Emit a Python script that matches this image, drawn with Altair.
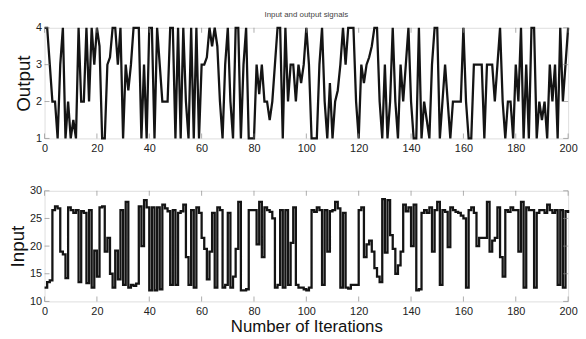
import altair as alt
import pandas as pd

iterations = list(range(201))

output_signal = [
    4, 4, 3, 2, 2, 1, 3, 4, 1, 2, 1, 1.5, 1, 4, 2, 2, 4, 2, 4, 3,
    4, 3.5, 1, 1, 3, 3.2, 4, 4, 3, 4, 1, 3, 2.3, 3, 4, 4, 4, 1, 3, 1,
    4, 4, 1, 4, 3, 2, 2, 2, 4, 4, 1, 4, 1, 4, 2, 1, 4, 1, 4, 1,
    3, 3, 3.2, 4, 3.5, 4, 3.5, 2, 1, 3, 4, 2, 1, 4, 4, 1, 3, 4, 1, 1,
    1, 3, 2.2, 3, 2, 2, 1.5, 2, 3, 4, 4, 1, 4, 2, 3, 3, 2, 3, 2.5, 3,
    4, 3, 1, 1, 1, 3, 4, 2, 1, 2.5, 1, 2, 2.3, 3, 4, 3, 4, 4, 4, 2,
    1, 3, 2.5, 3, 3.2, 3.5, 4, 4, 2, 1, 3, 1, 2, 4, 2, 1, 3, 2, 3, 4,
    2, 1, 1, 4, 1, 2, 1.5, 1, 3, 4, 4, 1, 2, 3, 2, 1, 2, 2, 2, 2,
    4, 2, 1, 1, 3, 3, 3, 3, 1, 3, 3, 3, 2, 3, 4, 2, 1, 2, 2, 1,
    3, 2, 4, 1, 3, 1, 4, 4, 1, 2, 1.5, 2, 1, 3, 2, 3, 1, 4, 2, 3,
    4,
]

input_signal = [
    12.5, 13.5, 13.8, 26.5, 27.2, 26.8, 19, 18.5, 14.2, 27, 26.5, 26, 26.5, 13.5, 26.3, 26, 13.3, 26.5, 12.5, 19.2,
    14.5, 27, 27.2, 19, 21.5, 15, 12.5, 19.2, 14, 26.5, 13, 28, 12.5, 13, 12.8, 13.2, 27.2, 20, 28.3, 27,
    12, 27, 12, 27, 12.2, 27.5, 26.8, 26.3, 13, 26.5, 13, 26, 26.3, 27.5, 18, 13, 26.5, 12.5, 27, 26,
    21.5, 19.5, 14, 19, 26, 12.5, 27, 26.5, 12.5, 13, 26, 12.5, 14.5, 19.5, 28, 12, 12, 12.2, 26.5, 26.5,
    26.5, 20.3, 28, 18, 27, 26.5, 26.2, 25, 12.5, 13, 26.5, 12.5, 26.5, 13, 20.6, 27, 13, 12.5, 12.5, 12.2,
    12, 12.5, 26.5, 26.2, 27, 26.5, 13, 26.5, 19, 26.3, 26.5, 28, 26.8, 12.5, 26, 12.5, 12.3, 13, 13, 13,
    26.5, 27, 18, 20.3, 21, 19, 16, 14.5, 13.5, 28.5, 18.8, 28.3, 22, 19.5, 15, 16.5, 19, 27.5, 26.3, 27,
    20, 27.5, 12, 12.2, 26, 26.5, 26, 27, 19, 26.5, 28, 13, 26.5, 26.2, 19.8, 27, 26.5, 26.2, 26, 25.5,
    25, 12.5, 26.5, 27, 26, 20, 21.5, 21.5, 21.5, 28, 19, 21, 21.5, 27, 18, 14.5, 26.5, 26.2, 27, 26.5,
    26.5, 19, 28, 12.5, 27, 26.5, 26.5, 12.5, 26, 26.5, 26.5, 26, 27.5, 26.5, 26, 26.5, 13, 26.5, 12.5, 26.3,
    26,
]

x_ticks = [0, 20, 40, 60, 80, 100, 120, 140, 160, 180, 200]
out_ticks = [1, 2, 3, 4]
in_ticks = [10, 15, 20, 25, 30]

W = 530
H = 112
FONT = "Liberation Sans"
TICK_COLOR = "#8a8a8a"

df_out = pd.DataFrame({"iter": iterations, "val": output_signal})
df_in = pd.DataFrame({"iter": iterations, "val": input_signal})


def panel(df, yticks, ytitle, interp, xtitle):
    xscale = alt.Scale(domain=[0, 200], nice=False, zero=False)
    yscale = alt.Scale(domain=[yticks[0], yticks[-1]], nice=False, zero=False)
    xaxis_kwargs = dict(values=x_ticks, labelFont=FONT, labelFontSize=11, labelColor="#222",
                        ticks=False, domain=False, grid=False, labelPadding=4,
                        labelOverlap=False, labelFlush=False)
    if xtitle:
        xaxis = alt.Axis(title=xtitle, titleFont=FONT, titleFontSize=17, titleFontWeight="normal",
                         titleColor="#111", titlePadding=2, **xaxis_kwargs)
    else:
        xaxis = alt.Axis(title=None, **xaxis_kwargs)
    yaxis = alt.Axis(values=yticks, title=ytitle, titleFont=FONT, titleFontSize=19,
                     titleFontWeight="normal", titleColor="#111", titlePadding=2,
                     labelFont=FONT, labelFontSize=11, labelColor="#222", labelPadding=3,
                     labelOverlap=False, labelFlush=False,
                     ticks=False, domain=False, grid=False)
    X = alt.X("iter:Q", scale=xscale, axis=xaxis)
    Y = alt.Y("val:Q", scale=yscale, axis=yaxis)
    line = alt.Chart(df).mark_line(color="#141414", strokeWidth=2.3, interpolate=interp).encode(
        x=X, y=Y,
    )
    xt = pd.DataFrame({"iter": x_ticks})
    yt = pd.DataFrame({"val": yticks})
    tb = alt.Chart(xt).mark_tick(color=TICK_COLOR, size=5, thickness=1, orient="vertical").encode(
        x=X, y=alt.value(H - 2.5))
    tt = alt.Chart(xt).mark_tick(color=TICK_COLOR, size=5, thickness=1, orient="vertical").encode(
        x=X, y=alt.value(2.5))
    tl = alt.Chart(yt).mark_tick(color=TICK_COLOR, size=5, thickness=1, orient="horizontal").encode(
        y=Y, x=alt.value(2.5))
    tr = alt.Chart(yt).mark_tick(color=TICK_COLOR, size=5, thickness=1, orient="horizontal").encode(
        y=Y, x=alt.value(W - 2.5))
    return alt.layer(line, tb, tt, tl, tr).properties(width=W, height=H)


top = panel(df_out, out_ticks, "Output", "linear", None).properties(
    title=alt.Title("Input and output signals", fontSize=8, font=FONT, fontWeight="normal",
                    color="#444", offset=3, anchor="middle")
)
bottom = panel(df_in, in_ticks, "Input", "step-after", "Number of Iterations")

chart = alt.vconcat(top, bottom, spacing=30).properties(
    padding={"left": 0, "top": 0, "right": 0, "bottom": 0}
).configure_view(stroke="#999999", strokeWidth=1).configure(background="white")

chart.save("out.html", embed_options={"renderer": "svg", "actions": False})
